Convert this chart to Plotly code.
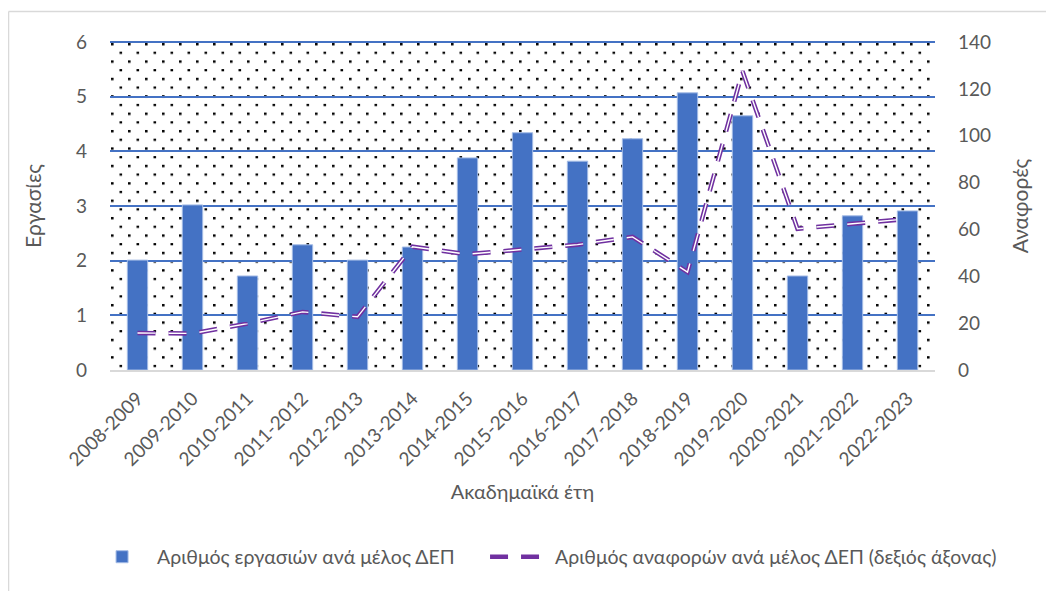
import base64
import plotly.graph_objects as go

years = ["2008-2009", "2009-2010", "2010-2011", "2011-2012", "2012-2013",
         "2013-2014", "2014-2015", "2015-2016", "2016-2017", "2017-2018",
         "2018-2019", "2019-2020", "2020-2021", "2021-2022", "2022-2023"]
papers_per_member = [2.01, 3.02, 1.72, 2.29, 2.01, 2.25, 3.88, 4.34, 3.82, 4.23,
                     5.07, 4.65, 1.72, 2.82, 2.91]
citations_per_member = [15.8, 15.6, 19.8, 24.8, 22.7, 52.6, 49.4, 51.6, 53.5, 56.8,
                        41.8, 127.5, 60.3, 62.4, 64.5]

bar_name = "Αριθμός εργασιών ανά μέλος ΔΕΠ"
line_name = "Αριθμός αναφορών ανά μέλος ΔΕΠ (δεξιός άξονας)"
y_title = "Εργασίες"
y2_title = "Αναφορές"
x_title = "Ακαδημαϊκά έτη"

FONT = "Lato"
GREY = "#595959"
BLUE = "#4472C4"
PURPLE = "#7030A0"

svg = ("<svg xmlns='http://www.w3.org/2000/svg' width='825' height='328'>"
       "<defs><pattern id='p' width='17' height='17.4' patternUnits='userSpaceOnUse'>"
       "<rect x='1' y='1' width='2.6' height='2.4' fill='black'/>"
       "<rect x='9.5' y='9.7' width='2.6' height='2.2' fill='black'/>"
       "</pattern></defs><rect width='100%' height='100%' fill='url(#p)'/></svg>")
svg_uri = "data:image/svg+xml;base64," + base64.b64encode(svg.encode()).decode()

fig = go.Figure()
fig.add_trace(go.Bar(
    x=years, y=papers_per_member, name=bar_name,
    marker=dict(color=BLUE, line=dict(color="#A4BCE6", width=1)),
    yaxis="y", legend="legend",
))
fig.add_trace(go.Scatter(
    x=years, y=citations_per_member, name=line_name, mode="lines",
    line=dict(color=PURPLE, width=4.5, dash="18px,13px"),
    yaxis="y2", legendgroup="cit", legend="legend2",
))
fig.add_trace(go.Scatter(
    x=years, y=citations_per_member, name=line_name, mode="lines",
    line=dict(color="white", width=1.4, dash="18px,13px"),
    yaxis="y2", legendgroup="cit", showlegend=False, hoverinfo="skip",
    legend="legend2",
))

legend_common = dict(orientation="h", xanchor="left", xref="container",
                     y=0.071, yanchor="middle", yref="container",
                     font=dict(size=19.5, color=GREY), itemwidth=60,
                     bgcolor="rgba(0,0,0,0)")

fig.update_layout(
    width=1054, height=591,
    margin=dict(l=102, r=127, t=34, b=229, autoexpand=False),
    paper_bgcolor="white",
    plot_bgcolor="rgba(0,0,0,0)",
    font=dict(family=FONT, color=GREY, size=18),
    bargap=0.63,
    showlegend=True,
    legend=dict(x=0.075, **legend_common),
    legend2=dict(x=0.4526, **legend_common),
    xaxis=dict(
        type="category", tickangle=-45, tickfont=dict(size=19, color=GREY),
        ticklabelstandoff=8,
        showgrid=False, showline=True, linecolor="#D9D9D9", linewidth=2,
        ticks="", title=dict(text=x_title, font=dict(size=20, color=GREY), standoff=16),
    ),
    yaxis=dict(
        range=[0, 6], dtick=1, showgrid=True, gridcolor=BLUE, gridwidth=2,
        zeroline=False, showline=False, ticks="", ticklabelstandoff=22,
        tickfont=dict(size=19, color=GREY),
        title=dict(text=y_title, font=dict(size=21, color=GREY), standoff=28),
    ),
    yaxis2=dict(
        range=[0, 140], dtick=20, overlaying="y", side="right", showgrid=False,
        zeroline=False, showline=False, ticks="", ticklabelstandoff=22,
        tickfont=dict(size=19, color=GREY),
        title=dict(text=y2_title, font=dict(size=21, color=GREY), standoff=23),
    ),
    images=[dict(source=svg_uri, xref="paper", yref="paper", x=0, y=1,
                 sizex=1, sizey=1, xanchor="left", yanchor="top",
                 sizing="stretch", layer="below")],
    shapes=[
        dict(type="line", xref="paper", yref="paper", x0=0, x1=1, y0=1, y1=1,
             layer="below", line=dict(color=BLUE, width=2)),
        dict(type="line", xref="paper", yref="paper", x0=-0.1230, x1=-0.1230,
             y0=1.093, y1=-0.75, line=dict(color="#D9D9D9", width=1.5)),
        dict(type="line", xref="paper", yref="paper", x0=-0.1230, x1=1.2,
             y0=1.093, y1=1.093, line=dict(color="#D9D9D9", width=1.5)),
    ],
)

fig.write_html("out.html")
